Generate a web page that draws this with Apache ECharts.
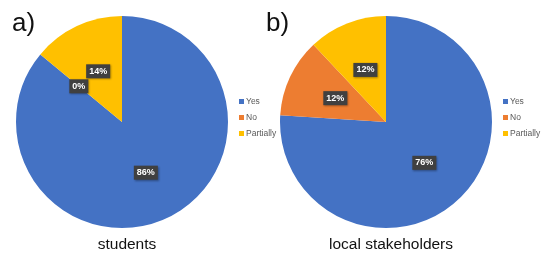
<!DOCTYPE html>
<html>
<head>
<meta charset="utf-8">
<script src="https://cdn.jsdelivr.net/npm/echarts@6/dist/echarts.min.js"></script>
<style>
  html, body { margin: 0; padding: 0; background: #fff; }
  #chart { width: 550px; height: 255px; }
</style>
</head>
<body>
<div id="chart"></div>
<script>
var answers = ['Yes', 'No', 'Partially'];
var studentsVals = [86, 0, 14];
var stakeholderVals = [76, 12, 12];
var colors = ['#4472C4', '#ED7D31', '#FFC000'];

function toData(vals) {
  return answers.map(function (name, i) {
    return { name: name, value: vals[i] };
  });
}

var chart = echarts.init(document.getElementById('chart'));

var labelStyle = {
  show: true,
  position: 'inside',
  formatter: '{c}%',
  color: '#fff',
  fontSize: 9,
  fontWeight: 'bold',
  fontFamily: 'Liberation Sans',
  backgroundColor: '#404040',
  padding: [3, 3, 2, 3],
  shadowColor: 'rgba(0,0,0,0.35)',
  shadowBlur: 2,
  shadowOffsetX: 1,
  shadowOffsetY: 1
};

function legendAt(left) {
  return {
    data: answers,
    orient: 'vertical',
    left: left,
    top: 92,
    itemWidth: 5,
    itemHeight: 5,
    itemGap: 7,
    icon: 'rect',
    selectedMode: false,
    textStyle: { fontSize: 8.5, color: '#595959', fontFamily: 'Liberation Sans', padding: [0, 0, 0, -3] }
  };
}

var option = {
  color: colors,
  animation: false,
  title: [
    { text: 'a)', left: 7, top: 6, textStyle: { fontSize: 26, fontWeight: 'normal', color: '#111', fontFamily: 'Liberation Sans' } },
    { text: 'b)', left: 261, top: 6, textStyle: { fontSize: 26, fontWeight: 'normal', color: '#111', fontFamily: 'Liberation Sans' } },
    { text: 'students', left: 122, textAlign: 'center', top: 232, textStyle: { fontSize: 15.5, fontWeight: 'normal', color: '#111', fontFamily: 'Liberation Sans' } },
    { text: 'local stakeholders', left: 386, textAlign: 'center', top: 232, textStyle: { fontSize: 15.5, fontWeight: 'normal', color: '#111', fontFamily: 'Liberation Sans' } }
  ],
  legend: [legendAt(234), legendAt(498)],
  series: [
    {
      name: 'students',
      type: 'pie',
      center: [122, 122],
      radius: 106,
      startAngle: 90,
      clockwise: true,
      label: labelStyle,
      labelLine: { show: false },
      emphasis: { disabled: true },
      data: toData(studentsVals)
    },
    {
      name: 'local stakeholders',
      type: 'pie',
      center: [386, 122],
      radius: 106,
      startAngle: 90,
      clockwise: true,
      label: labelStyle,
      labelLine: { show: false },
      emphasis: { disabled: true },
      data: toData(stakeholderVals)
    }
  ]
};

chart.setOption(option);
</script>
</body>
</html>
